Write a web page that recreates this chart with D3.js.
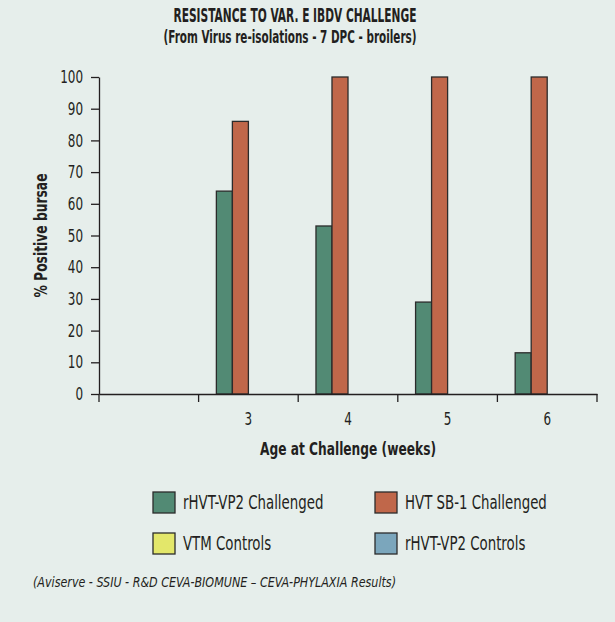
<!DOCTYPE html>
<html>
<head>
<meta charset="utf-8">
<script src="https://cdn.jsdelivr.net/npm/d3@7"></script>
<style>
  body { margin: 0; background: #e6eeeb; }
  svg text { font-family: "DejaVu Sans Condensed", "Liberation Sans Narrow", "Roboto", sans-serif; fill: #231f20; }
</style>
</head>
<body>
<div id="chart"></div>
<script>
// categories (first one is an empty slot on the axis)
const ages = ["", "3", "4", "5", "6"]
const seriesNames = ["rHVT-VP2 Challenged", "HVT SB-1 Challenged", "VTM Controls", "rHVT-VP2 Controls"]
const seriesColors = ["#528a74", "#c0674a", "#e3e76a", "#7ba6bc"]
const rhvtChallenged = [0, 64, 53, 29, 13]
const sb1Challenged = [0, 86, 100, 100, 100]
const vtmControls = [0, 0, 0, 0, 0]
const rhvtControls = [0, 0, 0, 0, 0]
const yTicks = [0, 10, 20, 30, 40, 50, 60, 70, 80, 90, 100]

const width = 615, height = 622
const margin = {top: 77, right: 18, bottom: 228, left: 99}

// squeeze the text horizontally to imitate a condensed face
function squeeze(sel, f) {
    sel.each(function () {
        const n = this.getComputedTextLength()
        d3.select(this).attr("textLength", n * f).attr("lengthAdjust", "spacingAndGlyphs")
    })
}
function fit(sel, w) {
    sel.attr("textLength", w).attr("lengthAdjust", "spacingAndGlyphs")
}

const svg = d3.select("#chart").append("svg")
    .attr("width", width)
    .attr("height", height)

svg.append("rect").attr("width", width).attr("height", height).attr("fill", "#e6eeeb")

// Titel
svg.append("text")
    .attr("x", 295).attr("y", 22)
    .attr("text-anchor", "middle")
    .attr("font-weight", "bold").attr("font-size", 19)
    .text("RESISTANCE TO VAR. E IBDV CHALLENGE")
    .call(fit, 243)
svg.append("text")
    .attr("x", 290).attr("y", 43)
    .attr("text-anchor", "middle")
    .attr("font-weight", "bold").attr("font-size", 18.5)
    .text("(From Virus re-isolations - 7 DPC - broilers)")
    .call(fit, 253)

const x0 = d3.scaleBand()
    .domain(ages)
    .range([margin.left, width - margin.right])

const x1 = d3.scaleBand()
    .domain(seriesNames)
    .range([0, x0.bandwidth()])
    .paddingOuter(1.11)

const y = d3.scaleLinear()
    .domain([0, 100])
    .range([height - margin.bottom, margin.top])

const table = ages.map(function (a, i) {
    return {age: a, values: [rhvtChallenged[i], sb1Challenged[i], vtmControls[i], rhvtControls[i]]}
})

// Balken
const groups = svg.selectAll(".grp")
    .data(table)
    .enter().append("g")
    .attr("class", "grp")
    .attr("transform", d => "translate(" + x0(d.age) + ",0)")

groups.selectAll("rect")
    .data(d => d.values.map((v, k) => ({name: seriesNames[k], value: v, color: seriesColors[k]})).filter(e => e.value > 0))
    .enter().append("rect")
    .attr("x", d => x1(d.name))
    .attr("y", d => y(d.value))
    .attr("width", x1.bandwidth())
    .attr("height", d => y(0) - y(d.value))
    .attr("fill", d => d.color)
    .attr("stroke", "#2b2b2b")
    .attr("stroke-width", 1.3)

// Achsen
const yAxis = svg.append("g")
    .attr("transform", "translate(" + margin.left + ",0)")
    .call(d3.axisLeft(y).tickValues(yTicks).tickSize(8).tickPadding(8).tickSizeOuter(0))
yAxis.selectAll("text").attr("font-size", 17.5).call(squeeze, 0.76)

const xAxis = svg.append("g")
    .attr("transform", "translate(0," + y(0) + ")")
    .call(d3.axisBottom(x0).tickSize(0).tickPadding(19).tickSizeOuter(0))
xAxis.selectAll("text").attr("font-size", 17.5).call(squeeze, 0.76)

// tick marks at band edges
svg.append("g").selectAll("line")
    .data(ages.concat(["end"]))
    .enter().append("line")
    .attr("x1", (d, i) => margin.left + i * x0.step())
    .attr("x2", (d, i) => margin.left + i * x0.step())
    .attr("y1", y(0)).attr("y2", y(0) + 8)
    .attr("stroke", "#231f20").attr("stroke-width", 1.3)

svg.selectAll(".domain, .tick line").attr("stroke", "#231f20").attr("stroke-width", 1.3)

svg.append("text")
    .attr("transform", "translate(47," + y(50) + ") rotate(-90)")
    .attr("text-anchor", "middle")
    .attr("font-weight", "bold").attr("font-size", 18)
    .text("% Positive bursae")
    .call(fit, 124)

svg.append("text")
    .attr("x", 348).attr("y", 455)
    .attr("text-anchor", "middle")
    .attr("font-weight", "bold").attr("font-size", 18)
    .text("Age at Challenge (weeks)")
    .call(fit, 176)

// Legende
const legendPos = [[153, 492], [375, 492], [153, 533], [375, 533]]
const legend = svg.selectAll(".legend")
    .data(seriesNames)
    .enter().append("g")
    .attr("class", "legend")
    .attr("transform", (d, i) => "translate(" + legendPos[i][0] + "," + legendPos[i][1] + ")")

legend.append("rect")
    .attr("width", 22).attr("height", 21)
    .attr("fill", (d, i) => seriesColors[i])
    .attr("stroke", "#2b2b2b").attr("stroke-width", 1.3)

legend.append("text")
    .attr("x", 30).attr("y", 17)
    .attr("font-size", 19)
    .text(d => d)
    .call(squeeze, 0.78)

svg.append("text")
    .attr("x", 33).attr("y", 587)
    .attr("font-style", "italic").attr("font-size", 14)
    .text("(Aviserve - SSIU - R&D CEVA-BIOMUNE \u2013 CEVA-PHYLAXIA Results)")
    .call(fit, 363)
</script>
</body>
</html>
